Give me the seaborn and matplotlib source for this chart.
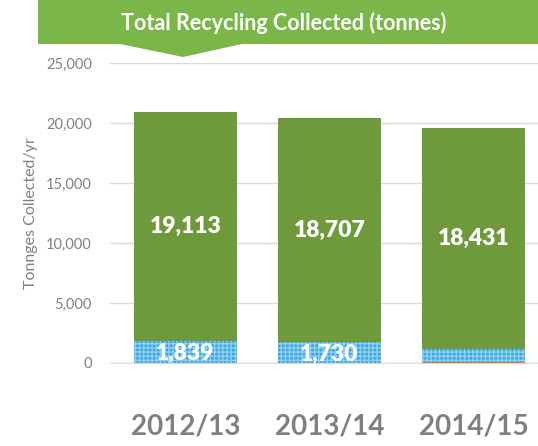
import pandas as pd
import seaborn as sns
import matplotlib.pyplot as plt
from matplotlib.patches import Polygon

# ------------------------------- chart data -----------------------------------
years = ["2012/13", "2013/14", "2014/15"]
kerbside = [19113, 18707, 18431]       # green segment
bring_banks = [1839, 1730, 1080]       # blue hatched segment
other = [0, 0, 100]                    # thin orange segment
blue_labels = ["1,839", "1,730", ""]
green_labels = ["19,113", "18,707", "18,431"]
y_ticks = [0, 5000, 10000, 15000, 20000, 25000]

df = pd.DataFrame({"year": years, "green": kerbside,
                   "blue": bring_banks, "orange": other})
df["top"] = df["green"] + df["blue"] + df["orange"]
df["mid"] = df["blue"] + df["orange"]

sns.set_style("white")
plt.rcParams["font.family"] = ["Lato", "DejaVu Sans"]

fig = plt.figure(figsize=(5.38, 4.46), dpi=100)
ax = fig.add_axes([110 / 538, 83 / 446, 428 / 538, 300 / 446])

# stacked bars drawn as cumulative layers
sns.barplot(df, x="year", y="top", color="#6E9A3C", saturation=1,
            width=0.715, ax=ax)
sns.barplot(df, x="year", y="mid", color="#3EA6DE", saturation=1,
            width=0.715, ax=ax, hatch="++++", edgecolor="#8ED0F2", linewidth=0)
sns.barplot(df, x="year", y="orange", color="#E0782A", saturation=1,
            width=0.715, ax=ax, linewidth=0)
for p in ax.patches:
    p.set_linewidth(0)

# data labels
for i in range(len(years)):
    ax.text(i, df["mid"][i] + df["green"][i] / 2, green_labels[i],
            ha="center", va="center", color="white", fontsize=16.5,
            fontweight="heavy")
    if blue_labels[i]:
        ax.text(i, df["mid"][i] * 0.42, blue_labels[i], ha="center",
                va="center", color="white", fontsize=16.5, fontweight="heavy")

ax.set_ylim(0, 25000)
ax.set_xlim(-0.524, 2.448)
ax.set_yticks(y_ticks)
ax.set_yticklabels([f"{v:,}" for v in y_ticks])
ax.yaxis.grid(True, color="#D9D9D9", linewidth=1)
ax.set_axisbelow(True)
for s in ["top", "right", "left"]:
    ax.spines[s].set_visible(False)
ax.spines["bottom"].set_color("#D9D9D9")
ax.tick_params(axis="y", length=0, pad=13, labelsize=10.5, labelcolor="#808080")
ax.tick_params(axis="x", length=0, pad=36, labelsize=20, labelcolor="#7F7F7F")
for lbl in ax.get_xticklabels():
    lbl.set_fontweight("bold")
ax.set_xlabel("")
ax.set_ylabel("Tonnges Collected/yr", color="#808080", fontsize=11.5,
              labelpad=6)

# green title banner with pointer
W, H = 538, 446
banner = Polygon([(38 / W, 1), (1, 1), (1, 1 - 44 / H), (242 / W, 1 - 44 / H),
                  (183 / W, 1 - 57 / H), (120 / W, 1 - 44 / H), (38 / W, 1 - 44 / H)],
                 closed=True, transform=fig.transFigure, facecolor="#7AB648",
                 edgecolor="none")
fig.patches.append(banner)
fig.text(284 / W, 1 - 23 / H, "Total Recycling Collected (tonnes)",
         ha="center", va="center", color="white", fontsize=15.5,
         fontweight="bold")

plt.savefig("out.png", dpi=100)
